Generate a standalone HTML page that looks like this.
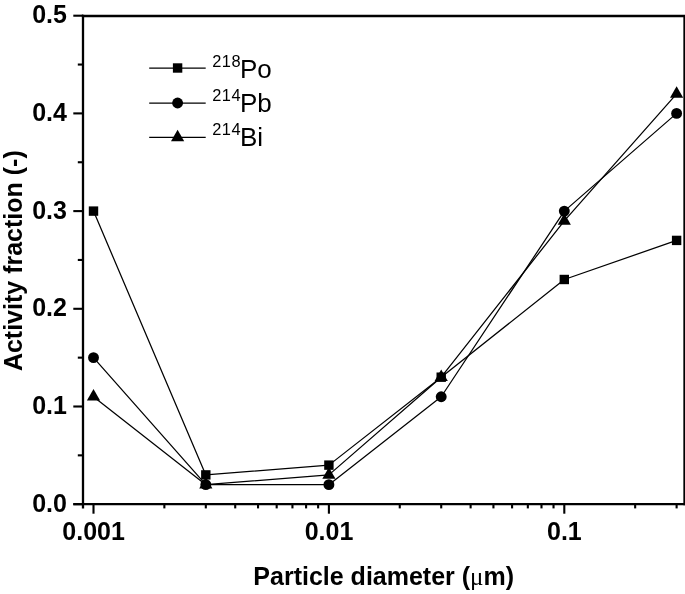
<!DOCTYPE html>
<html><head><meta charset="utf-8"><title>Activity fraction vs particle diameter</title>
<style>html,body{margin:0;padding:0;background:#fff;}svg{display:block;}text{font-family:"Liberation Sans",Arial,sans-serif;fill:#000;}.b{font-weight:bold;font-size:25px;}.r{font-size:26px;}.s{font-size:16.4px;letter-spacing:0.45px;}.mu{font-family:"Liberation Serif","DejaVu Serif",serif;font-weight:normal;}</style></head><body>
<svg width="685" height="594" viewBox="0 0 685 594">
<rect width="685" height="594" fill="#fff"/>
<g stroke="#000" stroke-width="2.3" fill="none" stroke-linecap="butt">
<path d="M83.0 14.85V508.4"/>
<path d="M81.85 16.0H685"/>
<path d="M73.3 504.2H685"/>
<path d="M684.5 16.0V505.34999999999997"/>
</g>
<g stroke="#000" stroke-width="2.1" fill="none">
<path d="M73.3 504.20H83.0"/>
<path d="M77.8 455.35H83.0"/>
<path d="M73.3 406.50H83.0"/>
<path d="M77.8 357.65H83.0"/>
<path d="M73.3 308.80H83.0"/>
<path d="M77.8 259.95H83.0"/>
<path d="M73.3 211.10H83.0"/>
<path d="M77.8 162.25H83.0"/>
<path d="M73.3 113.40H83.0"/>
<path d="M77.8 64.55H83.0"/>
<path d="M73.3 15.70H83.0"/>
<path d="M93.50 504.2V513.7"/>
<path d="M164.36 504.2V508.4"/>
<path d="M205.81 504.2V508.4"/>
<path d="M235.22 504.2V508.4"/>
<path d="M258.04 504.2V508.4"/>
<path d="M276.68 504.2V508.4"/>
<path d="M292.44 504.2V508.4"/>
<path d="M306.09 504.2V508.4"/>
<path d="M318.13 504.2V508.4"/>
<path d="M328.90 504.2V513.7"/>
<path d="M399.76 504.2V508.4"/>
<path d="M441.21 504.2V508.4"/>
<path d="M470.62 504.2V508.4"/>
<path d="M493.44 504.2V508.4"/>
<path d="M512.08 504.2V508.4"/>
<path d="M527.84 504.2V508.4"/>
<path d="M541.49 504.2V508.4"/>
<path d="M553.53 504.2V508.4"/>
<path d="M564.30 504.2V513.7"/>
<path d="M635.16 504.2V508.4"/>
<path d="M676.61 504.2V508.4"/>
</g>
<text class="b" x="66.9" y="511.70" text-anchor="end">0.0</text>
<text class="b" x="66.9" y="414.00" text-anchor="end">0.1</text>
<text class="b" x="66.9" y="316.30" text-anchor="end">0.2</text>
<text class="b" x="66.9" y="218.60" text-anchor="end">0.3</text>
<text class="b" x="66.9" y="120.90" text-anchor="end">0.4</text>
<text class="b" x="66.9" y="23.20" text-anchor="end">0.5</text>
<text class="b" x="93.60" y="540.2" text-anchor="middle">0.001</text>
<text class="b" x="329.00" y="540.2" text-anchor="middle">0.01</text>
<text class="b" x="564.40" y="540.2" text-anchor="middle">0.1</text>
<text class="b" x="383.7" y="585.4" text-anchor="middle">Particle diameter (<tspan class="mu">μ</tspan>m)</text>
<text class="b" transform="translate(21.6 260.7) rotate(-90)" text-anchor="middle">Activity fraction (-)</text>
<g stroke="#000" stroke-width="1.25" fill="none" stroke-linejoin="round">
<polyline points="93.50,211.10 205.81,474.89 328.90,465.12 441.21,377.19 564.30,279.49 676.61,240.41"/>
<polyline points="93.50,357.65 205.81,484.66 328.90,484.66 441.21,396.73 564.30,211.10 676.61,113.40"/>
<polyline points="93.50,396.73 205.81,484.66 328.90,474.89 441.21,377.19 564.30,220.87 676.61,93.86"/>
<path d="M149.2 68H205.7"/>
<path d="M149.2 103H205.7"/>
<path d="M149.2 137.4H205.7"/>
</g>
<g fill="#000" stroke="none">
<rect x="88.80" y="206.40" width="9.4" height="9.4"/>
<rect x="201.11" y="470.19" width="9.4" height="9.4"/>
<rect x="324.20" y="460.42" width="9.4" height="9.4"/>
<rect x="436.51" y="372.49" width="9.4" height="9.4"/>
<rect x="559.60" y="274.79" width="9.4" height="9.4"/>
<rect x="671.91" y="235.71" width="9.4" height="9.4"/>
<circle cx="93.50" cy="357.65" r="5.45"/>
<circle cx="205.81" cy="484.66" r="5.45"/>
<circle cx="328.90" cy="484.66" r="5.45"/>
<circle cx="441.21" cy="396.73" r="5.45"/>
<circle cx="564.30" cy="211.10" r="5.45"/>
<circle cx="676.61" cy="113.40" r="5.45"/>
<path d="M93.50 389.11L100.10 400.54H86.90Z"/>
<path d="M205.81 477.04L212.41 488.47H199.21Z"/>
<path d="M328.90 467.27L335.50 478.70H322.30Z"/>
<path d="M441.21 369.57L447.81 381.00H434.61Z"/>
<path d="M564.30 213.25L570.90 224.68H557.70Z"/>
<path d="M676.61 86.24L683.21 97.67H670.01Z"/>
<rect x="172.90" y="63.30" width="9.4" height="9.4"/>
<circle cx="177.60" cy="103.00" r="5.45"/>
<path d="M177.60 129.78L184.20 141.21H171.00Z"/>
</g>
<text class="r" x="212.3" y="77.8"><tspan class="s" dy="-10.9">218</tspan><tspan dy="10.9" x="239.9">Po</tspan></text>
<text class="r" x="212.3" y="111.6"><tspan class="s" dy="-10.9">214</tspan><tspan dy="10.9" x="239.9">Pb</tspan></text>
<text class="r" x="212.3" y="145.7"><tspan class="s" dy="-10.9">214</tspan><tspan dy="10.9" x="239.9">Bi</tspan></text>
</svg></body></html>
